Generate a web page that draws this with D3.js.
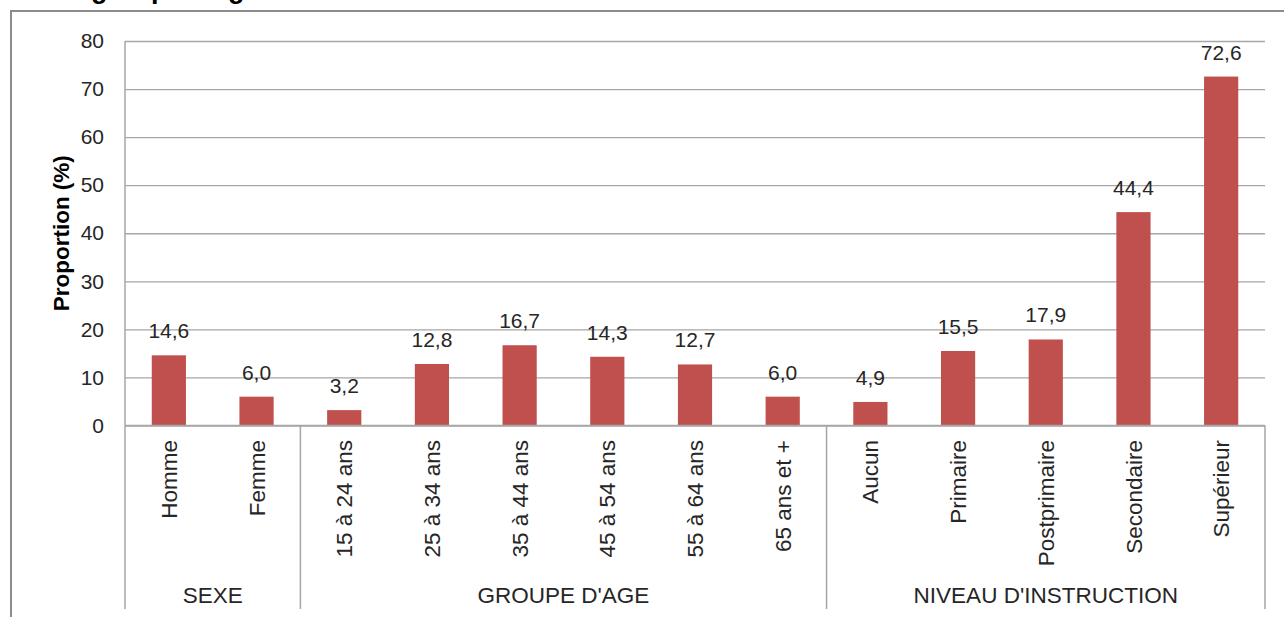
<!DOCTYPE html>
<html>
<head>
<meta charset="utf-8">
<script src="https://cdn.jsdelivr.net/npm/d3@7"></script>
<style>
  html, body { margin: 0; padding: 0; background: #fff; }
  svg { display: block; font-family: "Liberation Sans", Arial, sans-serif; }
</style>
</head>
<body>
<svg id="chart" width="1284" height="617"></svg>
<script>
// Proportion (%) by sex, age group and education level
const categories = ["Homme", "Femme",
  "15 à 24 ans", "25 à 34 ans", "35 à 44 ans", "45 à 54 ans", "55 à 64 ans", "65 ans et +",
  "Aucun", "Primaire", "Postprimaire", "Secondaire", "Supérieur"];
const values = [14.6, 6.0, 3.2, 12.8, 16.7, 14.3, 12.7, 6.0, 4.9, 15.5, 17.9, 44.4, 72.6];
const groups = ["SEXE", "GROUPE D'AGE", "NIVEAU D'INSTRUCTION"];
const groupSizes = [2, 6, 5];
const yTicks = [0, 10, 20, 30, 40, 50, 60, 70, 80];
const yTitle = "Proportion (%)";
const title = "Selon groupe d'âge";

const svg = d3.select("#chart");
const plotLeft = 125, plotRight = 1265, plotTop = 41, plotBase = 425.5, groupBottom = 609;
const gridColor = "#a6a6a6";
const textColor = "#262626";
const fs = 21;      // tick and value labels
const fsCat = 22.5; // category, group and axis title

const x = d3.scaleBand().domain(categories).range([plotLeft, plotRight]).paddingInner(0.61).paddingOuter(0.305);
const y = d3.scaleLinear().domain([0, 80]).range([plotBase, plotTop]);
const fmt = v => d3.format(".1f")(v).replace(".", ",");

// clipped title line and outer frame
svg.append("text").attr("x", 10).attr("y", -2)
  .attr("font-weight", "bold").attr("font-size", 27).attr("fill", "#000").text(title);
svg.append("path").attr("d", "M11,617 V11 H1284")
  .attr("fill", "none").attr("stroke", "#8c8c8c").attr("stroke-width", 2);

// gridlines and y-axis
const yAxis = d3.axisLeft(y).tickValues(yTicks).tickSize(-(plotRight - plotLeft)).tickPadding(21);
const gy = svg.append("g").attr("transform", `translate(${plotLeft},0)`).call(yAxis);
gy.select(".domain").remove();
gy.selectAll(".tick line").attr("stroke", gridColor).attr("stroke-width", 1.3);
gy.selectAll(".tick text").attr("font-size", fs).attr("fill", textColor)
  .attr("font-family", "Liberation Sans, Arial, sans-serif");

// y-axis title
svg.append("text")
  .attr("transform", `translate(68.5,${(plotTop + plotBase) / 2}) rotate(-90)`)
  .attr("text-anchor", "middle").attr("font-weight", "bold")
  .attr("font-size", fsCat).attr("fill", "#000").text(yTitle);

// bars
svg.append("g").selectAll("rect").data(categories).join("rect")
  .attr("x", d => x(d)).attr("width", x.bandwidth())
  .attr("y", (d, i) => y(values[i])).attr("height", (d, i) => y(0) - y(values[i]))
  .attr("fill", "#c0504d");

// value labels
svg.append("g").selectAll("text").data(categories).join("text")
  .attr("x", d => x(d) + x.bandwidth() / 2)
  .attr("y", (d, i) => y(values[i]) - 17)
  .attr("text-anchor", "middle").attr("font-size", fs).attr("fill", textColor)
  .text((d, i) => fmt(values[i]));

// baseline axis
svg.append("line").attr("x1", plotLeft).attr("x2", plotRight).attr("y1", plotBase).attr("y2", plotBase)
  .attr("stroke", gridColor).attr("stroke-width", 1.5);
svg.append("line").attr("x1", plotLeft).attr("x2", plotLeft).attr("y1", plotTop).attr("y2", plotBase)
  .attr("stroke", gridColor).attr("stroke-width", 1.5);

// category labels
svg.append("g").selectAll("text").data(categories).join("text")
  .attr("transform", d => `translate(${x(d) + x.bandwidth() / 2},440) rotate(-90)`)
  .attr("dy", "0.36em").attr("text-anchor", "end")
  .attr("font-size", fsCat).attr("fill", textColor).text(d => d);

// group separators and labels
const step = x.step();
let idx = 0;
const bounds = [plotLeft];
groupSizes.forEach(n => { idx += n; bounds.push(plotLeft + idx * step); });
svg.append("g").selectAll("line").data(bounds).join("line")
  .attr("x1", d => d).attr("x2", d => d).attr("y1", plotBase).attr("y2", groupBottom)
  .attr("stroke", gridColor).attr("stroke-width", 1.5);
svg.append("g").selectAll("text").data(groups).join("text")
  .attr("x", (d, i) => (bounds[i] + bounds[i + 1]) / 2).attr("y", 603)
  .attr("text-anchor", "middle").attr("font-size", fsCat).attr("fill", textColor).text(d => d);
</script>
</body>
</html>
